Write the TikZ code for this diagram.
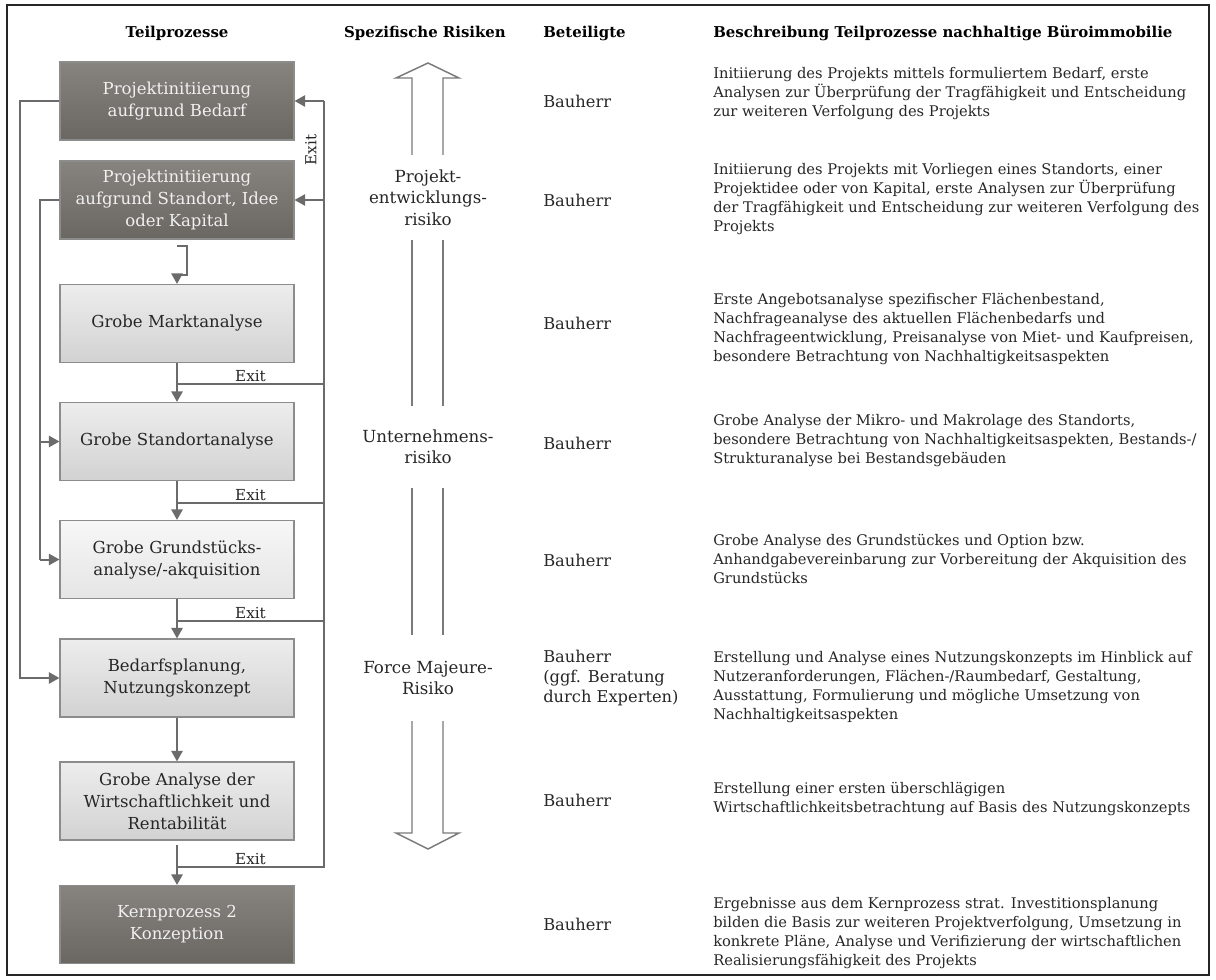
\documentclass[tikz,border=0pt]{standalone}
\usepackage{fontspec}
\setmainfont{DejaVu Serif}
\usetikzlibrary{arrows.meta,calc}

\definecolor{linegray}{HTML}{6B6B6B}
\definecolor{boxborder}{HTML}{8C8C8C}
\definecolor{darktop}{HTML}{87847F}
\definecolor{darkbot}{HTML}{6A6762}
\definecolor{lighttop}{HTML}{EDEDED}
\definecolor{lightbot}{HTML}{D2D2D2}
\definecolor{paletop}{HTML}{F7F7F7}
\definecolor{palebot}{HTML}{E5E5E5}
\definecolor{inkgray}{HTML}{262626}
\definecolor{riskgray}{HTML}{7A7A7A}

\tikzset{
  proc/.style={rectangle, draw=boxborder, line width=0.8pt,
    minimum width=175.5pt, minimum height=58.5pt, inner sep=0pt,
    align=center, font=\fontsize{12.4}{16.5}\selectfont},
  darkproc/.style={proc, top color=darktop, bottom color=darkbot, text=white!94!black},
  lightproc/.style={proc, top color=lighttop, bottom color=lightbot, text=inkgray},
  paleproc/.style={proc, top color=paletop, bottom color=palebot, text=inkgray},
  flow/.style={draw=linegray, line width=1.5pt},
  flowarrow/.style={flow, -{Triangle[width=8.5pt,length=8pt]}},
  head/.style={inner sep=0pt, text=black, font=\fontsize{11.2}{13}\selectfont\bfseries},
  desc/.style={anchor=west, align=left, inner sep=0pt, text=inkgray,
    font=\fontsize{11}{14.25}\selectfont},
  party/.style={anchor=west, align=left, inner sep=0pt, text=inkgray,
    font=\fontsize{12.2}{15}\selectfont},
  exitlabel/.style={inner sep=1.5pt, text=inkgray, font=\fontsize{11.4}{13}\selectfont},
  risklabel/.style={align=center, inner sep=0pt, text=inkgray,
    font=\fontsize{12.5}{16}\selectfont},
  riskline/.style={draw=riskgray, line width=1.1pt, line join=miter},
}

\begin{document}
\begin{tikzpicture}[x=0.75pt, y=-0.75pt]
  \useasboundingbox (0,0) rectangle (1216,980);
  \draw[line width=1.5pt, black!85] (7,5) rectangle (1209,975);

  % column headings
  \node[head] (h1) at (177,33) {Teilprozesse};
  \node[head] (h2) at (425,33) {Spezifische Risiken};
  \node[head, anchor=west] (h3) at (543,33) {Beteiligte};
  \node[head, anchor=west] (h4) at (713,33) {Beschreibung Teilprozesse nachhaltige B\"uroimmobilie};

  % process steps
  \node[darkproc]  (b1) at (177,101)   {Projektinitiierung\\aufgrund Bedarf};
  \node[darkproc]  (b2) at (177,200)   {Projektinitiierung\\aufgrund Standort, Idee\\oder Kapital};
  \node[lightproc] (b3) at (177,323.5) {Grobe Marktanalyse};
  \node[lightproc] (b4) at (177,441.5) {Grobe Standortanalyse};
  \node[paleproc]  (b5) at (177,559.5) {Grobe Grundst\"ucks-\\analyse/-akquisition};
  \node[lightproc] (b6) at (177,678)   {Bedarfsplanung,\\Nutzungskonzept};
  \node[lightproc] (b7) at (177,801)   {Grobe Analyse der\\Wirtschaftlichkeit und\\Rentabilit\"at};
  \node[darkproc]  (b8) at (177,924.5) {Kernprozess 2\\Konzeption};

  % guide coordinates for the side rails and the exit junctions
  \coordinate (L1) at (20,0);
  \coordinate (L2) at (40,0);
  \coordinate (R)  at (324,0);
  \coordinate (j3) at (177,384);
  \coordinate (j4) at (177,503);
  \coordinate (j5) at (177,621);
  \coordinate (j7) at (177,867);

  % outer left rail: demand-driven start jumps to requirements planning
  \draw[flowarrow] (b1.west) -- (b1.west -| L1) -- (b6.west -| L1) -- (b6.west);
  % inner left rail: site/idea/capital start feeds site and plot analysis
  \draw[flow] (b2.west) -- (b2.west -| L2) -- (b5.west -| L2);
  \draw[flowarrow] (b4.west -| L2) -- (b4.west);
  \draw[flowarrow] (b5.west -| L2) -- (b5.west);

  % main sequence
  \draw[flowarrow] ($(b2.south)+(0,6)$) -- ++(10,0) -- ++(0,29) -- ++(-10,0) -- (b3.north);
  \draw[flowarrow] (b3.south) -- (b4.north);
  \draw[flowarrow] (b4.south) -- (b5.north);
  \draw[flowarrow] (b5.south) -- (b6.north);
  \draw[flowarrow] (b6.south) -- (b7.north);
  \draw[flowarrow] ($(b7.south)+(0,4)$) -- (b8.north);

  % exit branches and right rail back to the starts
  \draw[flow] (j3) -- (j3 -| R);
  \draw[flow] (j4) -- (j4 -| R);
  \draw[flow] (j5) -- (j5 -| R);
  \draw[flow] (j7) -- (j7 -| R) -- (b1.east -| R);
  \draw[flowarrow] (b1.east -| R) -- (b1.east);
  \draw[flowarrow] (b2.east -| R) -- (b2.east);

  \node[exitlabel, above] (e3) at ($(j3)!0.5!(j3 -| R)$) {Exit};
  \node[exitlabel, above] (e4) at ($(j4)!0.5!(j4 -| R)$) {Exit};
  \node[exitlabel, above] (e5) at ($(j5)!0.5!(j5 -| R)$) {Exit};
  \node[exitlabel, above] (e7) at ($(j7)!0.5!(j7 -| R)$) {Exit};
  \node[exitlabel, rotate=90] (e0) at (311,150) {Exit};

  % risk band: hollow double arrow pointing both ways
  \node[risklabel] (r1) at (428,197.5) {Projekt-\\entwicklungs-\\risiko};
  \node[risklabel] (r2) at (428,447)   {Unternehmens-\\risiko};
  \node[risklabel] (r3) at (428,678)   {Force Majeure-\\Risiko};
  \draw[riskline] (412,155) -- (412,78) -- (396,78) -- (428,63) -- (459,78) -- (443,78) -- (443,155);
  \draw[riskline] (412,240) -- (412,406);
  \draw[riskline] (443,240) -- (443,406);
  \draw[riskline] (412,488) -- (412,635);
  \draw[riskline] (443,488) -- (443,635);
  \draw[riskline] (412,721) -- (412,833) -- (396,833) -- (428,849) -- (459,833) -- (443,833) -- (443,721);

  % participants
  \node[party] (p1) at (543,101) {Bauherr};
  \node[party] (p2) at (543,200) {Bauherr};
  \node[party] (p3) at (543,323) {Bauherr};
  \node[party] (p4) at (543,443) {Bauherr};
  \node[party] (p5) at (543,560) {Bauherr};
  \node[party] (p6) at (543,678) {Bauherr\\(ggf. Beratung\\durch Experten)};
  \node[party] (p7) at (543,800) {Bauherr};
  \node[party] (p8) at (543,924) {Bauherr};

  % descriptions
  \node[desc] (d1) at (713,93.5) {Initiierung des Projekts mittels formuliertem Bedarf, erste\\Analysen zur \"Uberpr\"ufung der Tragf\"ahigkeit und Entscheidung\\zur weiteren Verfolgung des Projekts};
  \node[desc] (d2) at (713,199) {Initiierung des Projekts mit Vorliegen eines Standorts, einer\\Projektidee oder von Kapital, erste Analysen zur \"Uberpr\"ufung\\der Tragf\"ahigkeit und Entscheidung zur weiteren Verfolgung des\\Projekts};
  \node[desc] (d3) at (713,329.5) {Erste Angebotsanalyse spezifischer Fl\"achenbestand,\\Nachfrageanalyse des aktuellen Fl\"achenbedarfs und\\Nachfrageentwicklung, Preisanalyse von Miet- und Kaufpreisen,\\besondere Betrachtung von Nachhaltigkeitsaspekten};
  \node[desc] (d4) at (713,441) {Grobe Analyse der Mikro- und Makrolage des Standorts,\\besondere Betrachtung von Nachhaltigkeitsaspekten, Bestands-/\\Strukturanalyse bei Bestandsgeb\"auden};
  \node[desc] (d5) at (713,559) {Grobe Analyse des Grundst\"uckes und Option bzw.\\Anhandgabevereinbarung zur Vorbereitung der Akquisition des\\Grundst\"ucks};
  \node[desc] (d6) at (713,687.5) {Erstellung und Analyse eines Nutzungskonzepts im Hinblick auf\\Nutzeranforderungen, Fl\"achen-/Raumbedarf, Gestaltung,\\Ausstattung, Formulierung und m\"ogliche Umsetzung von\\Nachhaltigkeitsaspekten};
  \node[desc] (d7) at (713,799) {Erstellung einer ersten \"uberschl\"agigen\\Wirtschaftlichkeitsbetrachtung auf Basis des Nutzungskonzepts};
  \node[desc] (d8) at (713,933) {Ergebnisse aus dem Kernprozess strat. Investitionsplanung\\bilden die Basis zur weiteren Projektverfolgung, Umsetzung in\\konkrete Pl\"ane, Analyse und Verifizierung der wirtschaftlichen\\Realisierungsf\"ahigkeit des Projekts};
\end{tikzpicture}
\end{document}
